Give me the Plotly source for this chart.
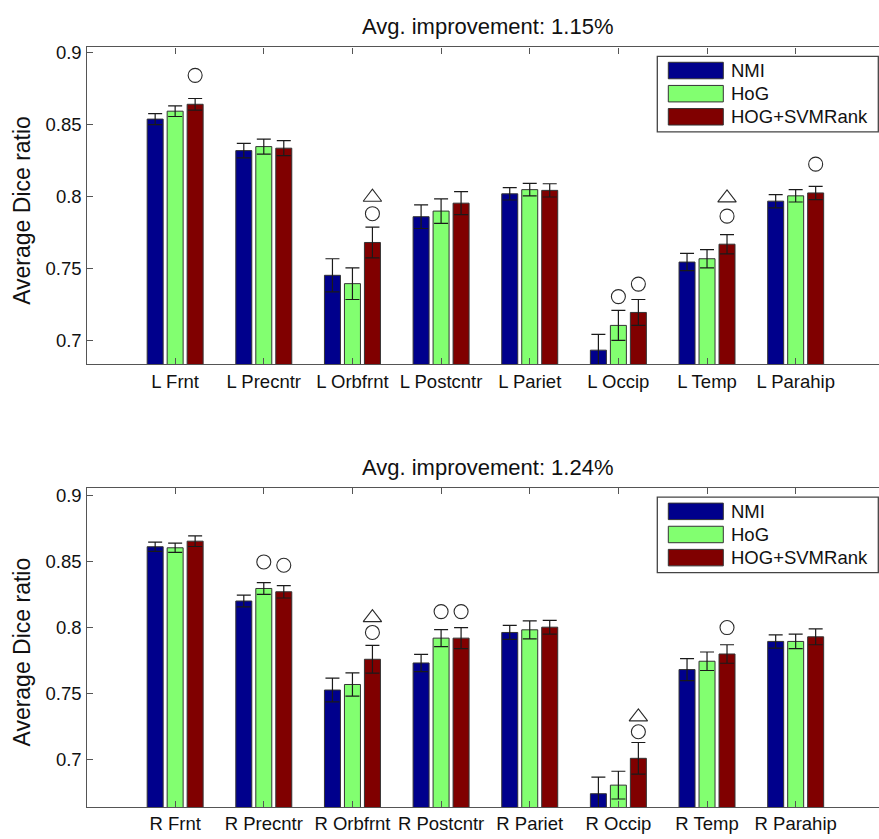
import plotly.graph_objects as go

# ---- data -------------------------------------------------------------
series_names = ["NMI", "HoG", "HOG+SVMRank"]
series_colors = ["rgb(0,0,140)", "rgb(130,255,112)", "rgb(128,0,0)"]

left_regions = ["L Frnt", "L Precntr", "L Orbfrnt", "L Postcntr",
                "L Pariet", "L Occip", "L Temp", "L Parahip"]
right_regions = ["R Frnt", "R Precntr", "R Orbfrnt", "R Postcntr",
                 "R Pariet", "R Occip", "R Temp", "R Parahip"]

left_nmi = [0.8536, 0.8317, 0.7451, 0.7858, 0.8017, 0.6931, 0.7543, 0.7966]
left_hog = [0.8591, 0.8345, 0.7393, 0.7897, 0.8046, 0.7103, 0.7566, 0.8003]
left_svm = [0.8639, 0.8334, 0.7679, 0.7952, 0.8041, 0.7193, 0.7667, 0.8023]
left_nmi_err = [0.0038, 0.0050, 0.0115, 0.0082, 0.0043, 0.0110, 0.0060, 0.0046]
left_hog_err = [0.0037, 0.0052, 0.0110, 0.0085, 0.0044, 0.0104, 0.0064, 0.0043]
left_svm_err = [0.0040, 0.0052, 0.0107, 0.0080, 0.0046, 0.0090, 0.0067, 0.0046]

right_nmi = [0.8614, 0.8203, 0.7529, 0.7734, 0.7965, 0.6744, 0.7684, 0.7897]
right_hog = [0.8606, 0.8298, 0.7571, 0.7922, 0.7985, 0.6809, 0.7747, 0.7897]
right_svm = [0.8656, 0.8273, 0.7762, 0.7922, 0.8005, 0.7012, 0.7802, 0.7932]
right_nmi_err = [0.0035, 0.0045, 0.0090, 0.0065, 0.0053, 0.0125, 0.0083, 0.0050]
right_hog_err = [0.0035, 0.0045, 0.0088, 0.0065, 0.0068, 0.0105, 0.0070, 0.0055]
right_svm_err = [0.0040, 0.0047, 0.0105, 0.0080, 0.0052, 0.0120, 0.0070, 0.0060]

# significance symbols: (region, series index, height)
left_circles = [("L Frnt", 2, 0.8840), ("L Orbfrnt", 2, 0.7879),
                ("L Occip", 1, 0.7303), ("L Occip", 2, 0.7390),
                ("L Temp", 2, 0.7862), ("L Parahip", 2, 0.8223)]
left_triangles = [("L Orbfrnt", 2, 0.7993), ("L Temp", 2, 0.7989)]
right_circles = [("R Precntr", 1, 0.8499), ("R Precntr", 2, 0.8474),
                 ("R Orbfrnt", 2, 0.7965), ("R Postcntr", 1, 0.8123),
                 ("R Postcntr", 2, 0.8123), ("R Occip", 2, 0.7213),
                 ("R Temp", 2, 0.8002)]
right_triangles = [("R Orbfrnt", 2, 0.8077), ("R Occip", 2, 0.7326)]

titles = ["Avg. improvement: 1.15%", "Avg. improvement: 1.24%"]
y_tick_vals = [0.7, 0.75, 0.8, 0.85, 0.9]
y_tick_text = ["0.7", "0.75", "0.8", "0.85", "0.9"]
y_label = "Average Dice ratio"

# ---- layout helpers ---------------------------------------------------
W, H = 879, 839
FONT = "Liberation Sans, Arial, Helvetica, sans-serif"
AXIS_COLOR = "#555555"
INK = "#111111"
BARGAP = 0.3235
SLOT = (1 - BARGAP) / 3


def fx(px):
    return px / W


def fy(py):
    return 1 - py / H


panels = [
    dict(regions=left_regions, vals=[left_nmi, left_hog, left_svm],
         errs=[left_nmi_err, left_hog_err, left_svm_err],
         circles=left_circles, triangles=left_triangles,
         top=41.7, bottom=361.0, yrange=[0.6832, 0.9034], title=titles[0]),
    dict(regions=right_regions, vals=[right_nmi, right_hog, right_svm],
         errs=[right_nmi_err, right_hog_err, right_svm_err],
         circles=right_circles, triangles=right_triangles,
         top=485.7, bottom=806.7, yrange=[0.6644, 0.9057], title=titles[1]),
]

fig = go.Figure()
annotations = []
shapes = []

for p_i, p in enumerate(panels):
    xa = "x" if p_i == 0 else "x2"
    ya = "y" if p_i == 0 else "y2"
    xpos = list(range(1, len(p["regions"]) + 1))

    for s_i, name in enumerate(series_names):
        fig.add_trace(go.Bar(
            x=xpos, y=p["vals"][s_i], name=name,
            marker=dict(color=series_colors[s_i],
                        line=dict(color="#333333", width=1)),
            error_y=dict(type="data", array=p["errs"][s_i], visible=True,
                         color="#1a1a1a", thickness=1.2, width=7),
            xaxis=xa, yaxis=ya, showlegend=False, hoverinfo="skip",
        ))

    for items, symbol, size in [(p["circles"], "circle-open", 14),
                                (p["triangles"], "triangle-up-open", 16)]:
        xs = [p["regions"].index(r) + 1 + (s - 1) * SLOT for r, s, _ in items]
        ys = [h for _, _, h in items]
        fig.add_trace(go.Scatter(
            x=xs, y=ys, mode="markers",
            marker=dict(symbol=symbol, size=size, color="#2a2a2a",
                        line=dict(color="#2a2a2a", width=1.1)),
            xaxis=xa, yaxis=ya, showlegend=False, hoverinfo="skip",
        ))

    ydom = [fy(p["bottom"]), fy(p["top"])]
    xkey = "xaxis" if p_i == 0 else "xaxis2"
    ykey = "yaxis" if p_i == 0 else "yaxis2"
    fig.update_layout(**{
        xkey: dict(domain=[fx(86.5), 1.0], range=[0, 8.94], anchor=ya,
                   tickvals=xpos, ticktext=p["regions"],
                   ticks="inside", ticklen=6, tickcolor=AXIS_COLOR,
                   showline=True, linecolor=AXIS_COLOR, linewidth=1.4,
                   mirror="ticks", showgrid=False, zeroline=False,
                   tickfont=dict(size=18.5, color=INK, family=FONT)),
        ykey: dict(domain=ydom, range=p["yrange"], anchor=xa,
                   tickvals=y_tick_vals, ticktext=y_tick_text,
                   ticks="inside", ticklen=6, tickcolor=AXIS_COLOR,
                   showline=True, linecolor=AXIS_COLOR, linewidth=1.4,
                   showgrid=False, zeroline=False,
                   tickfont=dict(size=18.5, color=INK, family=FONT)),
    })

    # panel title and y label
    annotations.append(dict(
        text=p["title"], xref="paper", yref="paper",
        x=fx(488), y=fy(p["top"] - 21), xanchor="center", yanchor="middle",
        showarrow=False, font=dict(size=22, color=INK, family=FONT)))
    annotations.append(dict(
        text=y_label, xref="paper", yref="paper", textangle=-90,
        x=fx(22), y=fy((p["top"] + p["bottom"]) / 2 + 5),
        xanchor="center", yanchor="middle",
        showarrow=False, font=dict(size=23, color=INK, family=FONT)))

    # legend box
    off = p["top"] - 41.7
    shapes.append(dict(type="rect", xref="paper", yref="paper",
                       x0=fx(657.3), x1=fx(878.3),
                       y0=fy(off + 126.7), y1=fy(off + 50.7),
                       line=dict(color="#444444", width=1.3),
                       fillcolor="white", layer="above"))
    for s_i, name in enumerate(series_names):
        cy = off + 65.0 + s_i * 23.3
        shapes.append(dict(type="rect", xref="paper", yref="paper",
                           x0=fx(668.3), x1=fx(723.3),
                           y0=fy(cy + 8.3), y1=fy(cy - 8.3),
                           line=dict(color="#333333", width=1),
                           fillcolor=series_colors[s_i], layer="above"))
        annotations.append(dict(
            text=name, xref="paper", yref="paper",
            x=fx(728.5), y=fy(cy), xanchor="left", yanchor="middle",
            showarrow=False, font=dict(size=18.5, color=INK, family=FONT)))

fig.update_layout(
    width=W, height=H,
    margin=dict(l=0, r=0, t=0, b=0),
    paper_bgcolor="white", plot_bgcolor="white",
    barmode="group", bargap=BARGAP, bargroupgap=0.2,
    font=dict(family=FONT, color=INK),
    annotations=annotations, shapes=shapes,
)

fig.write_html("out.html")
